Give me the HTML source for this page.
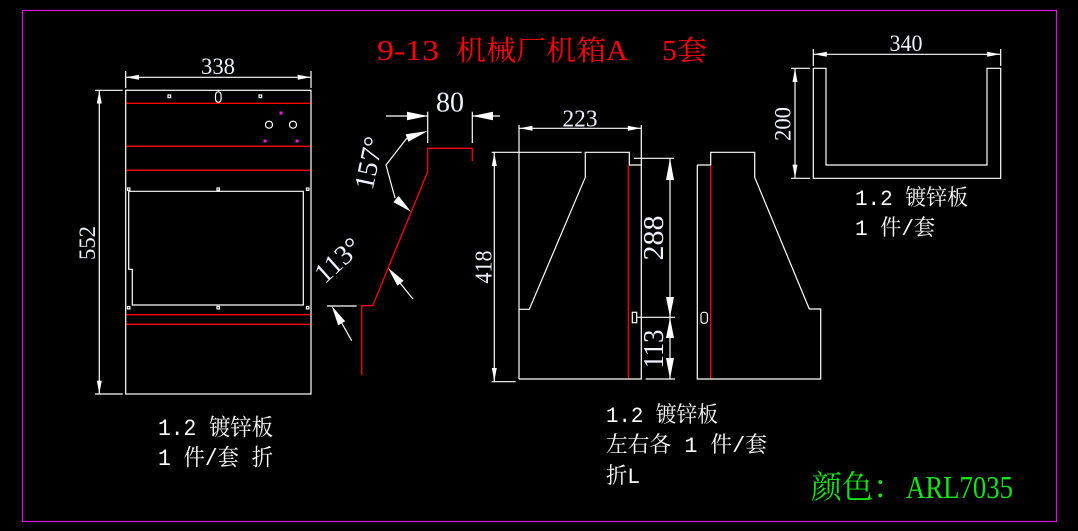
<!DOCTYPE html>
<html><head><meta charset="utf-8"><style>
html,body{margin:0;padding:0;background:#000;}
svg{display:block;}
.w{stroke:#fff;stroke-width:1.2;fill:none;}
.r{stroke:#f00;stroke-width:1.3;fill:none;}
.a{fill:#fff;stroke:none;}
.d{fill:#eef2ff;font-family:"Liberation Serif",serif;}
.l{fill:#fff;font-family:"Liberation Mono","Noto Serif CJK SC",monospace;}
</style></head><body>
<svg width="1078" height="531" viewBox="0 0 1078 531" xmlns="http://www.w3.org/2000/svg">
<rect x="0" y="0" width="1078" height="531" fill="#000"/>
<rect x="22.5" y="10.5" width="1034" height="511" fill="none" stroke="#e010e0" stroke-width="1.2"/>

<!-- Title -->
<g fill="#f00" font-family="'Liberation Serif','Noto Serif CJK SC',serif" font-size="28">
<text x="377" y="60" textLength="62" lengthAdjust="spacingAndGlyphs">9-13</text>
<text x="456" y="60" textLength="172" lengthAdjust="spacingAndGlyphs">机械厂机箱A</text>
<text x="662" y="60" textLength="45" lengthAdjust="spacingAndGlyphs">5套</text>
</g>

<!-- ================= LEFT PANEL ================= -->
<line class="w" x1="125.7" y1="77.3" x2="311" y2="77.3"/>
<line class="w" x1="125.7" y1="71" x2="125.7" y2="88"/>
<line class="w" x1="311" y1="71" x2="311" y2="88"/>
<polygon class="a" points="126,77.3 139,74.8 139,79.8"/>
<polygon class="a" points="310.7,77.3 297.7,74.8 297.7,79.8"/>
<text class="d" x="218" y="74" font-size="23" text-anchor="middle" textLength="34" lengthAdjust="spacingAndGlyphs">338</text>

<rect class="w" x="125.7" y="90.3" width="185.3" height="303.7"/>
<line class="r" x1="126.5" y1="103.3" x2="310.3" y2="103.3"/>
<line class="r" x1="126.5" y1="146.3" x2="310.3" y2="146.3"/>
<line class="r" x1="126.5" y1="170.3" x2="310.3" y2="170.3"/>
<line class="r" x1="126.5" y1="314.7" x2="310.3" y2="314.7"/>
<line class="r" x1="126.5" y1="324.3" x2="310.3" y2="324.3"/>
<rect class="w" x="168" y="95" width="2.6" height="2.6" stroke-width="1"/>
<rect class="w" x="259" y="95" width="2.6" height="2.6" stroke-width="1"/>
<rect class="w" x="215.5" y="91.7" width="5.6" height="10.6" rx="2.8" ry="3.5" stroke-width="1"/>
<circle class="w" cx="269" cy="124.7" r="3.5" stroke-width="1"/>
<circle class="w" cx="293" cy="124.7" r="3.5" stroke-width="1"/>
<g fill="#e020e0"><rect x="279.5" y="111.5" width="3" height="3"/><rect x="263.5" y="139.5" width="3" height="3"/><rect x="295.5" y="139.5" width="3" height="3"/></g>
<polyline class="w" points="128.7,191.3 303.3,191.3 303.3,305 132.3,305 132.3,269.3 128.7,269.3 128.7,191.3"/>
<g class="w" stroke-width="1">
<rect x="127.5" y="188" width="2.4" height="2.4"/><rect x="217" y="188" width="2.4" height="2.4"/><rect x="306.5" y="188" width="2.4" height="2.4"/>
<rect x="127.5" y="306.5" width="2.4" height="2.4"/><rect x="217" y="306.5" width="2.4" height="2.4"/><rect x="306.5" y="306.5" width="2.4" height="2.4"/>
</g>
<line class="w" x1="99.3" y1="90.3" x2="99.3" y2="394"/>
<line class="w" x1="95" y1="90.3" x2="122.7" y2="90.3"/>
<line class="w" x1="95" y1="394" x2="122.7" y2="394"/>
<polygon class="a" points="99.3,90.8 96.8,103.5 101.8,103.5"/>
<polygon class="a" points="99.3,393.5 96.8,380.8 101.8,380.8"/>
<text class="d" font-size="23" text-anchor="middle" transform="translate(95,243) rotate(-90)" textLength="34" lengthAdjust="spacingAndGlyphs">552</text>

<text class="l" x="158" y="435" font-size="23" textLength="115" lengthAdjust="spacingAndGlyphs">1.2 镀锌板</text>
<text class="l" x="158" y="465" font-size="23" textLength="115" lengthAdjust="spacingAndGlyphs">1 件/套 折</text>

<!-- ================= ANGLED PIECE ================= -->
<polyline class="r" points="472.3,161 472.3,148.3 427.7,148.3 427.7,171.7 372.7,305.7 361.7,305.7 361.7,375"/>
<line class="w" x1="327" y1="306" x2="356.7" y2="306"/>
<!-- 80 dim -->
<line class="w" x1="427.7" y1="111.7" x2="427.7" y2="143"/>
<line class="w" x1="472.3" y1="111.7" x2="472.3" y2="143"/>
<line class="w" x1="386" y1="116" x2="427.7" y2="116"/>
<line class="w" x1="472.3" y1="116" x2="500" y2="116"/>
<polygon class="a" points="427.7,116 407,111.8 407,120.2"/>
<polygon class="a" points="472.3,116 493,111.8 493,120.2"/>
<text class="d" x="450" y="111.7" font-size="28" text-anchor="middle" textLength="28" lengthAdjust="spacingAndGlyphs">80</text>
<!-- 157 -->
<polyline class="w" points="407,138 386,165 395,198" stroke-width="1"/>
<polygon class="a" points="427.7,131 408.3,141.8 405.7,134.2"/>
<polygon class="a" points="411,211.7 393.4,202.1 398.6,195.9"/>
<text class="d" font-size="28" text-anchor="middle" transform="translate(378,165) rotate(-78)">157°</text>
<!-- 113 -->
<line class="w" x1="400" y1="283" x2="413" y2="299" stroke-width="1"/>
<line class="w" x1="341.7" y1="323" x2="351.7" y2="340.7" stroke-width="1"/>
<polygon class="a" points="388,267.7 403.6,280.8 397.4,285.8"/>
<polygon class="a" points="331.7,306 345.2,321.3 338.2,325.3"/>
<text class="d" font-size="28" text-anchor="middle" transform="translate(344,267) rotate(-42)">113°</text>

<!-- ================= SIDE PANEL LEFT ================= -->
<line class="w" x1="519" y1="125" x2="519" y2="379"/>
<line class="w" x1="641.3" y1="125" x2="641.3" y2="165"/>
<line class="w" x1="519" y1="128.3" x2="641.3" y2="128.3"/>
<polygon class="a" points="519.5,128.3 532.5,125.8 532.5,130.8"/>
<polygon class="a" points="640.8,128.3 627.8,125.8 627.8,130.8"/>
<text class="d" x="580" y="126.7" font-size="24" text-anchor="middle" textLength="35" lengthAdjust="spacingAndGlyphs">223</text>
<polyline class="w" points="519,309.3 529.3,309.3 585.3,177.3 585.3,152.3 629.3,152.3 629.3,165 641.3,165 641.3,379 519,379"/>
<line class="r" x1="628.3" y1="165.5" x2="628.3" y2="378.5"/>
<rect class="w" x="632.3" y="312.3" width="4.4" height="10.4" stroke-width="1"/>
<line class="w" x1="636.7" y1="317.3" x2="675" y2="317.3"/>
<!-- 418 -->
<line class="w" x1="491.7" y1="152.3" x2="581.7" y2="152.3"/>
<line class="w" x1="491.7" y1="381.7" x2="515.7" y2="381.7"/>
<line class="w" x1="494.3" y1="152.3" x2="494.3" y2="381.7"/>
<polygon class="a" points="494.3,152.8 491.8,166 496.8,166"/>
<polygon class="a" points="494.3,381.2 491.8,368 496.8,368"/>
<text class="d" font-size="24" text-anchor="middle" transform="translate(491.7,267) rotate(-90)" textLength="33" lengthAdjust="spacingAndGlyphs">418</text>
<!-- 288 / 113 -->
<line class="w" x1="634" y1="158.3" x2="674" y2="158.3"/>
<line class="w" x1="645.7" y1="379" x2="675" y2="379"/>
<line class="w" x1="670" y1="158.3" x2="670" y2="379"/>
<polygon class="a" points="670,158.5 666,180 674,180"/>
<polygon class="a" points="670,317 666,297 674,297"/>
<polygon class="a" points="670,317.6 666,338 674,338"/>
<polygon class="a" points="670,378.8 666,358 674,358"/>
<text class="d" font-size="29" text-anchor="middle" transform="translate(663,238) rotate(-90)" textLength="45" lengthAdjust="spacingAndGlyphs">288</text>
<text class="d" font-size="29" text-anchor="middle" transform="translate(663,349) rotate(-90)" textLength="39" lengthAdjust="spacingAndGlyphs">113</text>

<!-- ================= SIDE PANEL RIGHT ================= -->
<polyline class="w" points="697.3,165 710.7,165 710.7,152.3 754.7,152.3 754.7,177.3 809.3,309 820.7,309 820.7,379 697.3,379 697.3,165"/>
<line class="r" x1="710.7" y1="165.5" x2="710.7" y2="378.5"/>
<rect class="w" x="701" y="312.3" width="6.4" height="11" rx="2.5" stroke-width="1"/>

<text class="l" x="606" y="422" font-size="22" textLength="112" lengthAdjust="spacingAndGlyphs">1.2 镀锌板</text>
<text class="l" x="606" y="452" font-size="22" textLength="161" lengthAdjust="spacingAndGlyphs">左右各 1 件/套</text>
<text class="l" x="606" y="483" font-size="22" textLength="34" lengthAdjust="spacingAndGlyphs">折L</text>

<!-- ================= U SHAPE ================= -->
<polyline class="w" points="813.3,68.3 826,68.3 826,165 987,165 987,68.3 1000.7,68.3 1000.7,178.3 813.3,178.3 813.3,68.3"/>
<line class="w" x1="813.3" y1="49" x2="813.3" y2="66"/>
<line class="w" x1="1000.7" y1="49" x2="1000.7" y2="66"/>
<line class="w" x1="813.3" y1="54.3" x2="1000.7" y2="54.3"/>
<polygon class="a" points="813.8,54.3 826.8,51.8 826.8,56.8"/>
<polygon class="a" points="1000.2,54.3 987.2,51.8 987.2,56.8"/>
<text class="d" x="906" y="51" font-size="23" text-anchor="middle" textLength="33" lengthAdjust="spacingAndGlyphs">340</text>
<line class="w" x1="791" y1="68.3" x2="810" y2="68.3"/>
<line class="w" x1="791" y1="178.3" x2="810" y2="178.3"/>
<line class="w" x1="795" y1="68.3" x2="795" y2="178.3"/>
<polygon class="a" points="795,68.8 792.5,82 797.5,82"/>
<polygon class="a" points="795,177.8 792.5,164.6 797.5,164.6"/>
<text class="d" font-size="23" text-anchor="middle" transform="translate(790.7,124) rotate(-90)" textLength="34" lengthAdjust="spacingAndGlyphs">200</text>
<text class="l" x="855" y="205" font-size="22" textLength="113" lengthAdjust="spacingAndGlyphs">1.2 镀锌板</text>
<text class="l" x="855" y="235" font-size="22" textLength="80" lengthAdjust="spacingAndGlyphs">1 件/套</text>

<!-- color -->
<g fill="#10e610" font-family="'Liberation Serif','Noto Serif CJK SC',serif" font-size="32">
<text x="811" y="498" textLength="93" lengthAdjust="spacingAndGlyphs">颜色：</text>
<text x="906" y="498" textLength="107" lengthAdjust="spacingAndGlyphs">ARL7035</text>
</g>
</svg>
</body></html>
